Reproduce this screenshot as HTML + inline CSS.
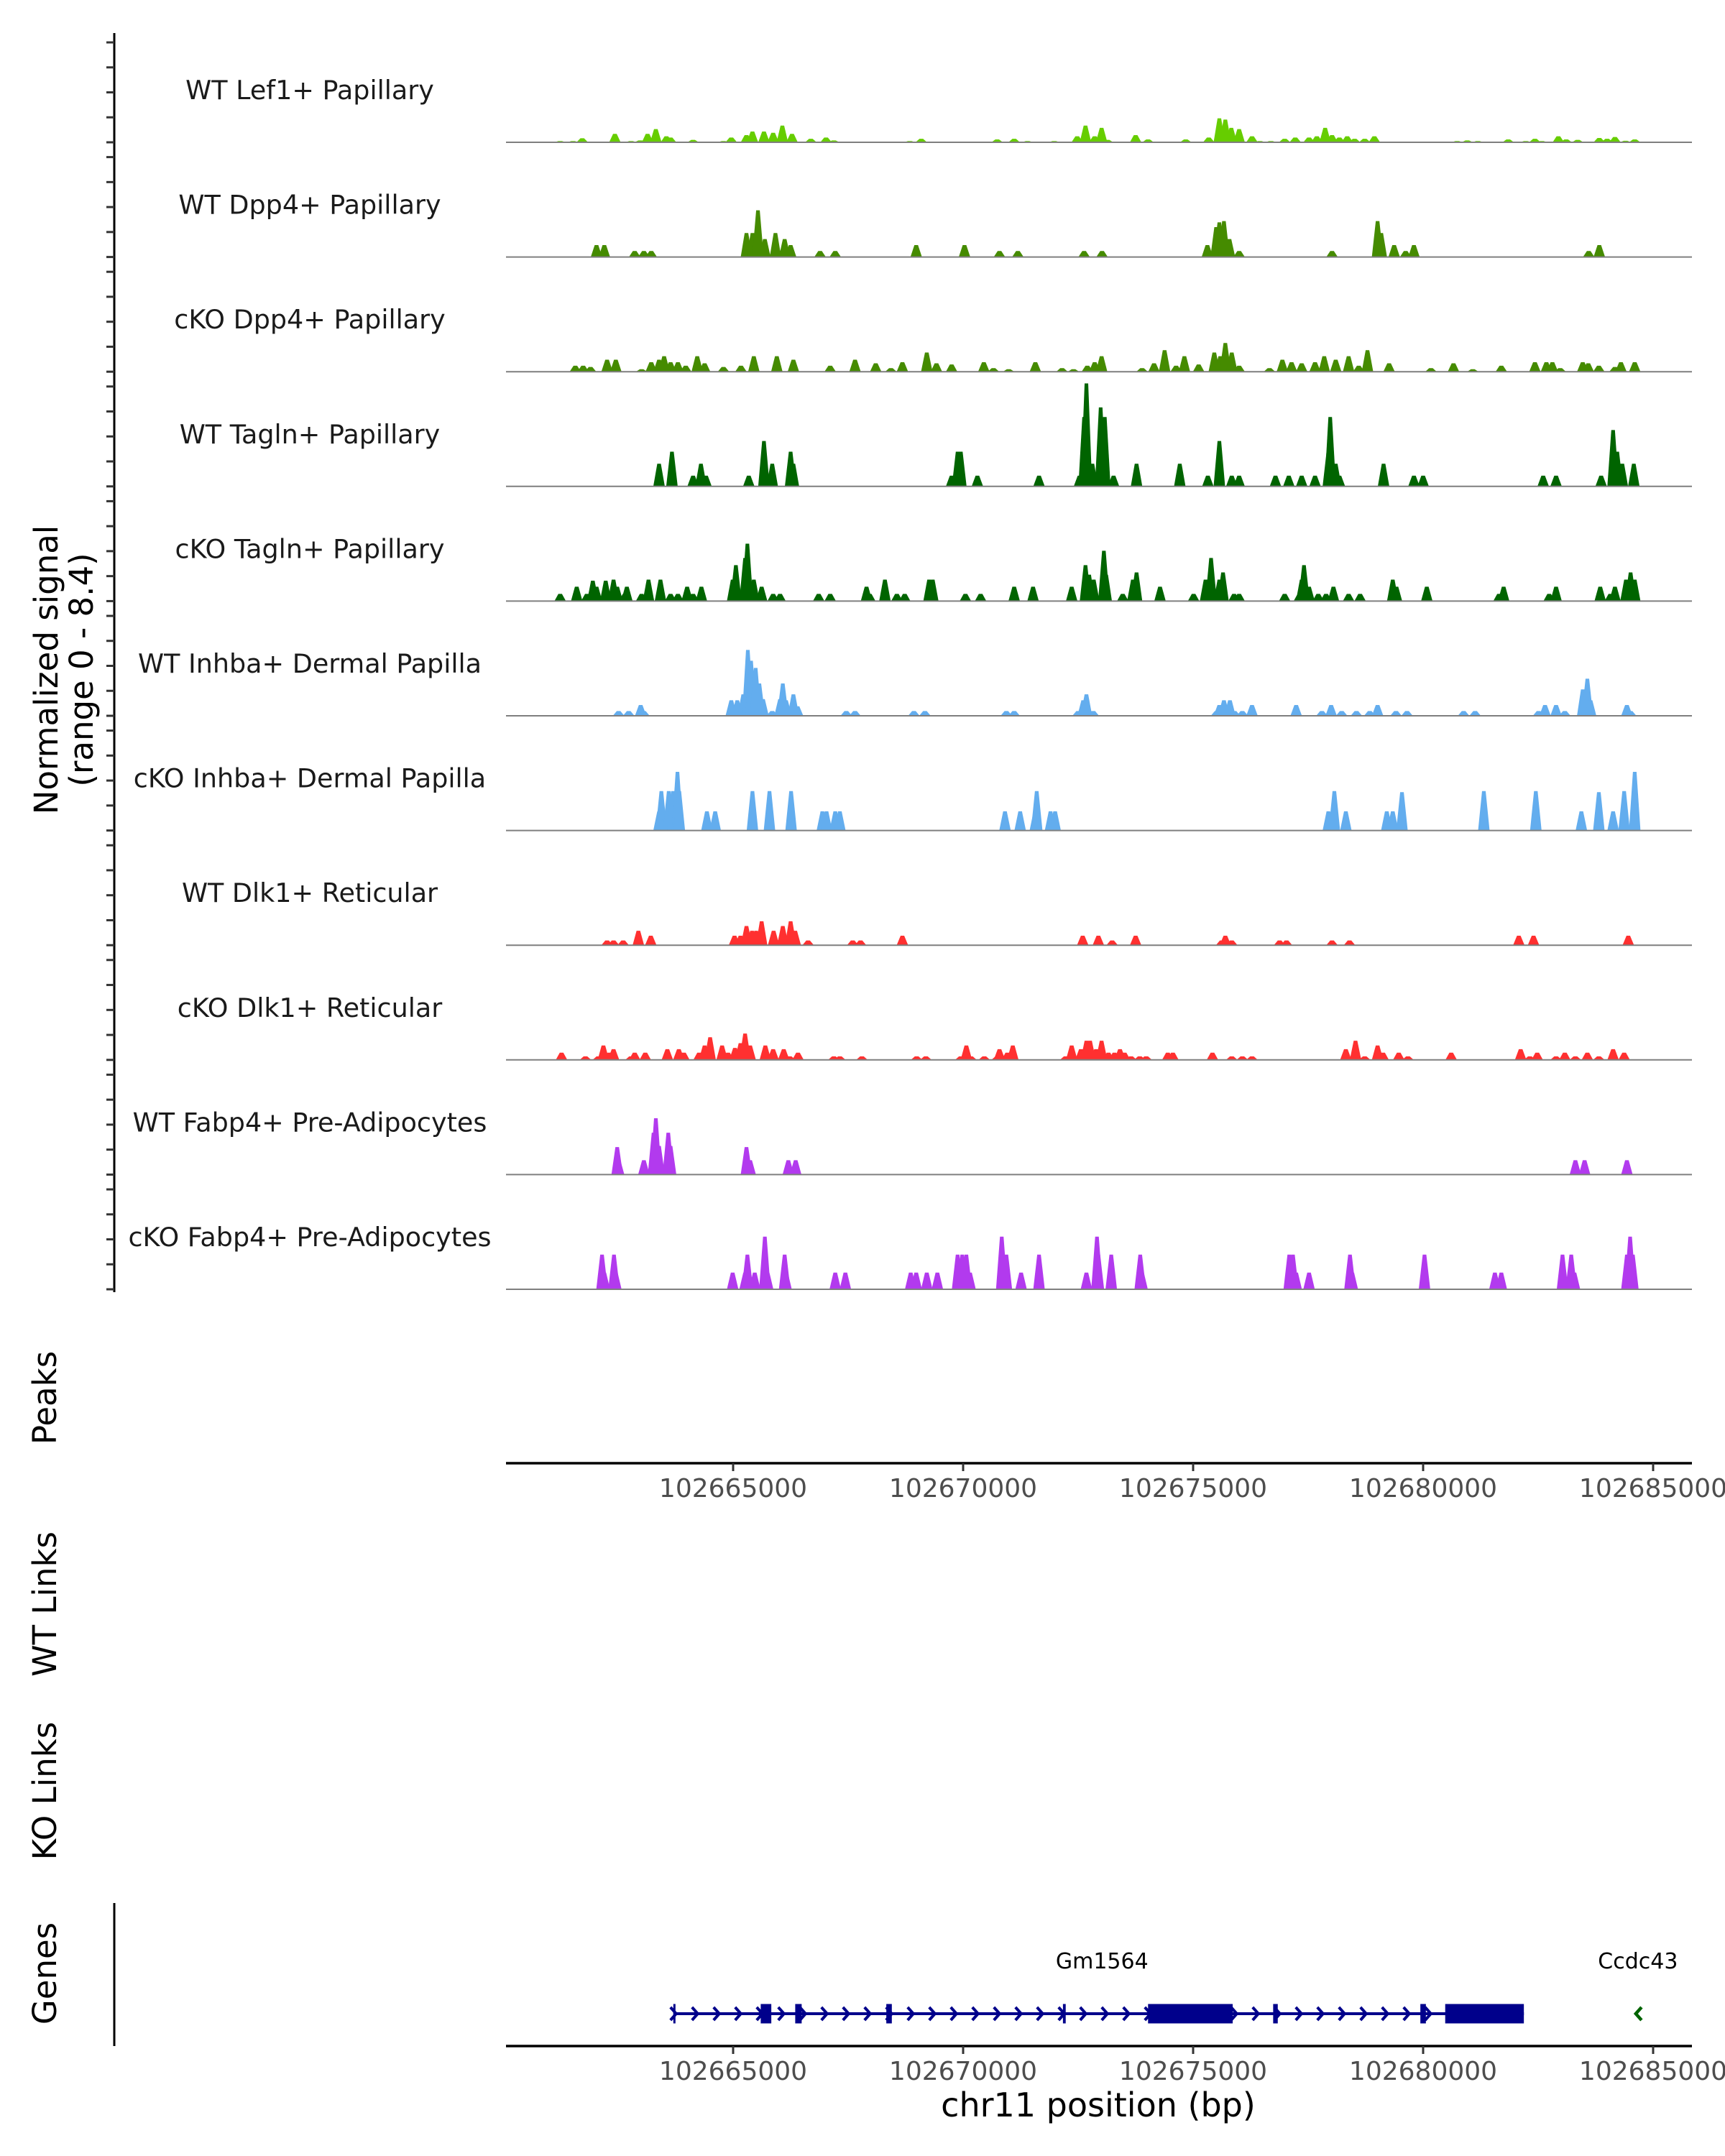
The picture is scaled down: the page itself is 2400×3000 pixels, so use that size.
<!DOCTYPE html>
<html><head><meta charset="utf-8">
<style>
html,body{margin:0;padding:0;background:#fff;}
svg{display:block;font-family:"DejaVu Sans","Liberation Sans",sans-serif;}
</style></head>
<body>
<svg id="chart" width="2400" height="3000" viewBox="0 0 2400 3000" xmlns="http://www.w3.org/2000/svg">
<rect width="2400" height="3000" fill="#fff"/>
</svg>
<script>
// ---- data (positions in kb from chr11:102660000, values in normalized signal) ----
const trackNames = ["WT Lef1+ Papillary","WT Dpp4+ Papillary","cKO Dpp4+ Papillary","WT Tagln+ Papillary","cKO Tagln+ Papillary","WT Inhba+ Dermal Papilla","cKO Inhba+ Dermal Papilla","WT Dlk1+ Reticular","cKO Dlk1+ Reticular","WT Fabp4+ Pre-Adipocytes","cKO Fabp4+ Pre-Adipocytes"];
const trackColors = ["#66CD00","#458B00","#458B00","#006400","#006400","#63ADEE","#63ADEE","#FF3030","#FF3030","#B23AEE","#B23AEE"];
const yMax = 8.4;
const xTicks = [102665000,102670000,102675000,102680000,102685000];

const pos1=[1.24,1.52,1.72,2.43,2.78,2.98,3.14,3.32,3.55,3.64,4.13,4.79,4.96,5.29,5.42,5.67,5.87,6.07,6.28,6.69,7.02,7.19,8.84,9.09,10.74,11.11,11.40,11.98,12.48,12.66,12.86,13.01,13.14,13.75,14.02,14.84,15.34,15.57,15.70,15.83,16.00,16.28,16.45,16.69,16.99,17.22,17.52,17.69,17.87,18.02,18.18,18.35,18.51,18.73,18.94,20.74,20.96,21.19,21.85,22.23,22.43,22.58,22.94,23.11,23.36,23.83,24.00,24.17,24.40,24.60];
const val1=[0.09,0.09,0.30,0.62,0.09,0.14,0.62,0.97,0.44,0.35,0.18,0.09,0.35,0.53,0.79,0.79,0.70,1.23,0.62,0.26,0.35,0.14,0.09,0.26,0.21,0.26,0.09,0.09,0.44,1.23,0.44,1.06,0.18,0.53,0.21,0.21,0.35,1.76,1.67,1.06,0.97,0.44,0.09,0.09,0.26,0.35,0.35,0.44,1.06,0.53,0.35,0.44,0.26,0.26,0.44,0.09,0.14,0.09,0.21,0.09,0.26,0.09,0.44,0.21,0.18,0.32,0.26,0.39,0.11,0.21];

const pos2=[2.03,2.20,2.86,3.06,3.22,5.29,5.42,5.54,5.69,5.92,6.12,6.25,6.89,7.22,8.98,10.03,10.79,11.19,12.63,13.02,15.31,15.50,15.57,15.67,15.79,16.00,18.02,19.01,19.09,19.37,19.62,19.80,23.60,23.83];
const val2=[0.88,0.88,0.44,0.44,0.44,1.76,1.76,3.43,1.32,1.76,1.32,0.88,0.44,0.44,0.88,0.88,0.44,0.44,0.44,0.44,0.88,2.20,2.55,2.64,1.32,0.44,0.44,2.64,1.76,0.88,0.44,0.88,0.44,0.88];

const pos3=[1.57,1.74,1.90,2.26,2.45,3.01,3.22,3.39,3.50,3.64,3.80,3.97,4.22,4.38,4.79,5.17,5.45,5.95,6.31,7.11,7.65,8.10,8.43,8.68,9.21,9.42,9.75,10.45,10.66,10.99,11.57,12.15,12.40,12.70,12.86,13.01,13.89,14.15,14.38,14.63,14.81,15.12,15.46,15.59,15.70,15.84,16.00,16.66,16.94,17.14,17.36,17.65,17.85,18.10,18.38,18.60,18.79,19.26,20.17,20.66,21.08,21.70,22.43,22.68,22.81,22.98,23.47,23.59,23.82,24.17,24.30,24.60];
const val3=[0.44,0.44,0.35,0.88,0.88,0.18,0.70,0.88,1.14,0.70,0.70,0.44,1.14,0.62,0.35,0.44,1.14,1.14,0.88,0.44,0.88,0.62,0.26,0.70,1.41,0.62,0.53,0.70,0.26,0.18,0.70,0.26,0.18,0.44,0.70,1.14,0.26,0.62,1.58,0.44,1.14,0.53,1.41,1.14,2.11,1.41,0.44,0.26,0.88,0.70,0.62,0.70,1.14,0.88,1.14,0.44,1.58,0.62,0.26,0.62,0.18,0.44,0.70,0.70,0.70,0.26,0.70,0.62,0.44,0.35,0.70,0.70];

const pos4=[3.39,3.67,4.13,4.30,4.41,5.34,5.67,5.85,6.25,6.31,9.75,9.88,9.95,10.31,11.65,12.53,12.63,12.68,12.81,12.99,13.08,13.27,13.77,14.71,15.32,15.57,15.84,16.00,16.79,17.08,17.36,17.65,17.94,17.98,18.10,18.18,19.14,19.80,20.00,22.61,22.89,23.87,24.13,24.22,24.33,24.58];
const val4=[1.67,2.55,0.79,1.67,0.79,0.79,3.34,1.67,2.55,1.67,0.79,2.55,2.55,0.79,0.79,0.79,5.10,7.57,1.67,5.81,5.10,0.79,1.67,1.67,0.79,3.34,0.79,0.79,0.79,0.79,0.79,0.79,2.55,5.10,1.67,0.79,1.67,0.79,0.79,0.79,0.79,0.79,4.14,2.55,1.67,1.67];

const pos5=[1.24,1.60,1.82,1.95,2.03,2.23,2.40,2.48,2.64,2.69,3.01,3.16,3.42,3.64,3.80,4.00,4.13,4.31,4.99,5.06,5.26,5.31,5.45,5.62,5.87,6.02,6.86,7.11,7.90,7.97,8.30,8.56,8.73,9.26,9.34,10.05,10.38,11.11,11.52,12.36,12.66,12.74,12.84,13.06,13.11,13.47,13.69,13.77,14.28,15.01,15.27,15.39,15.57,15.65,15.89,16.00,16.99,17.31,17.36,17.41,17.52,17.72,17.89,18.05,18.38,18.63,19.34,19.42,20.08,21.65,21.75,22.74,22.89,23.85,24.07,24.17,24.41,24.51,24.60];
const val5=[0.53,1.06,0.53,1.50,1.06,1.50,1.58,1.06,0.53,1.06,0.53,1.58,1.58,0.53,0.53,1.06,0.53,1.06,1.58,2.64,3.17,4.22,1.58,1.06,0.53,0.53,0.53,0.53,1.06,0.53,1.58,0.53,0.53,1.58,1.58,0.53,0.53,1.06,1.06,1.06,2.64,1.94,1.58,3.70,1.94,0.53,1.58,2.11,1.06,0.53,1.58,3.17,1.58,2.11,0.53,0.53,0.53,0.53,1.58,2.64,1.06,0.53,0.53,1.06,0.53,0.53,1.58,1.06,1.06,0.53,1.06,0.53,1.06,1.06,0.53,1.06,1.58,2.11,1.58];

const pos6=[2.51,2.73,2.99,3.06,4.96,5.09,5.22,5.32,5.39,5.49,5.57,5.65,5.85,6.02,6.08,6.15,6.31,6.40,7.46,7.65,8.93,9.17,10.94,11.11,12.50,12.61,12.68,12.83,15.51,15.57,15.67,15.80,15.90,16.07,16.28,17.24,17.80,18.00,18.23,18.55,18.84,19.01,19.41,19.65,20.88,21.13,22.51,22.65,22.89,23.08,23.47,23.57,23.64,24.43,24.51];
const val6=[0.35,0.35,0.79,0.35,1.14,1.14,1.58,4.84,4.05,3.52,2.38,1.23,0.35,1.23,2.38,1.14,1.58,0.70,0.35,0.35,0.35,0.35,0.35,0.35,0.35,1.14,1.58,0.35,0.35,0.79,1.14,1.14,0.35,0.35,0.79,0.79,0.35,0.79,0.35,0.35,0.35,0.79,0.35,0.35,0.35,0.35,0.35,0.79,0.79,0.35,1.94,2.73,1.14,0.79,0.35];

const pos7=[3.39,3.44,3.54,3.60,3.69,3.79,3.83,4.43,4.61,5.42,5.79,6.26,6.94,7.03,7.22,7.32,10.91,11.24,11.57,11.60,11.90,12.00,17.94,18.07,18.32,19.21,19.34,19.54,21.32,22.45,23.44,23.82,24.13,24.37,24.60];
const val7=[1.41,2.90,1.41,2.90,2.90,4.31,2.90,1.41,1.41,2.90,2.90,2.90,1.41,1.41,1.41,1.41,1.41,1.41,1.41,2.90,1.41,1.41,1.41,2.90,1.41,1.41,1.41,2.82,2.90,2.90,1.41,2.82,1.41,2.90,4.31];

const pos8=[2.26,2.40,2.61,2.94,3.21,5.03,5.16,5.29,5.41,5.50,5.62,5.88,6.08,6.25,6.35,6.63,7.60,7.77,8.68,12.60,12.94,13.24,13.75,15.62,15.70,15.84,16.88,17.03,18.02,18.40,22.08,22.40,24.46];
const val8=[0.35,0.35,0.35,1.06,0.70,0.70,0.70,1.41,1.06,1.06,1.76,1.06,1.41,1.76,1.06,0.35,0.35,0.35,0.70,0.70,0.70,0.35,0.70,0.35,0.70,0.35,0.35,0.35,0.35,0.35,0.70,0.70,0.70];

const pos9=[1.27,1.79,2.07,2.18,2.31,2.40,2.78,2.86,3.09,3.57,3.82,3.93,4.26,4.38,4.50,4.76,4.89,5.04,5.16,5.26,5.37,5.70,5.87,6.10,6.23,6.41,7.19,7.32,7.80,8.99,9.19,9.95,10.07,10.17,10.46,10.74,10.79,10.96,11.08,12.23,12.36,12.56,12.68,12.76,12.89,13.01,13.16,13.29,13.41,13.51,13.65,13.84,13.98,14.45,14.56,15.42,15.84,16.07,16.28,18.32,18.53,18.73,19.01,19.13,19.47,19.67,20.61,22.12,22.32,22.48,22.89,23.08,23.31,23.57,23.82,24.13,24.37];
const val9=[0.53,0.26,0.26,1.06,0.53,0.79,0.26,0.53,0.53,0.79,0.79,0.53,0.53,1.06,1.67,1.06,0.53,0.88,1.23,1.94,1.06,1.06,0.79,0.79,0.26,0.53,0.26,0.26,0.26,0.26,0.26,0.26,1.06,0.26,0.26,0.26,0.79,0.53,1.06,0.26,1.06,0.79,1.41,1.41,0.79,1.41,0.53,0.53,0.79,0.53,0.26,0.26,0.26,0.53,0.53,0.53,0.26,0.26,0.26,0.79,1.41,0.26,1.06,0.53,0.53,0.26,0.53,0.79,0.26,0.53,0.26,0.53,0.26,0.53,0.26,0.79,0.53];

const pos10=[2.48,2.51,3.06,3.27,3.32,3.39,3.59,3.64,5.29,5.37,6.20,6.36,23.31,23.51,24.43];
const val10=[2.02,1.06,1.06,3.08,4.14,2.11,3.08,2.11,2.02,1.06,1.06,1.06,1.06,1.06,1.06];

const pos11=[2.15,2.20,2.41,2.45,4.99,5.26,5.31,5.47,5.69,5.75,6.12,6.15,7.22,7.44,8.86,8.98,9.21,9.44,9.88,9.98,10.07,10.15,10.84,10.94,11.26,11.65,12.68,12.91,12.94,13.22,13.85,13.89,17.09,17.17,17.24,17.52,18.41,18.46,20.03,21.56,21.70,23.03,23.22,23.29,24.43,24.50,24.56];
const val11=[2.55,1.23,2.55,1.23,1.23,1.23,2.55,1.23,3.87,1.23,2.55,1.23,1.23,1.23,1.23,1.23,1.23,1.23,2.55,2.55,2.55,1.23,3.87,2.55,1.23,2.55,1.23,3.87,2.55,2.55,2.55,1.23,2.55,2.55,1.23,1.23,2.55,1.23,2.55,1.23,1.23,2.55,2.55,1.23,2.55,3.87,2.55];

const trackPos=[pos1,pos2,pos3,pos4,pos5,pos6,pos7,pos8,pos9,pos10,pos11];
const trackVal=[val1,val2,val3,val4,val5,val6,val7,val8,val9,val10,val11];

// gene model (kb)
const geneStart = 3.70, geneEnd = 22.19;
const exonStart = [3.70,5.60,6.35,8.33,12.17,14.02,16.74,19.94,20.48];
const exonEnd   = [3.72,5.83,6.49,8.45,12.23,15.86,16.84,20.06,22.19];
const gene2Pos = 24.67;
const geneLabels = ["Gm1564","Ccdc43"];
const geneLabelPos = [13.02,24.67];

// ---- scales ----
const NS="http://www.w3.org/2000/svg";
const svg=document.getElementById('chart');
const X0=704, X1=2354;
function xKb(kb){return 1020+(kb-5)*64;}
function xBp(bp){return xKb((bp-102660000)/1000);}
const trackPitch=159.6, base0=198, trackH=159;
function baseY(i){return base0+i*trackPitch;}
function hV(v){return v/yMax*trackH;}
function mk(tag,attrs){const e=document.createElementNS(NS,tag);for(const k in attrs)e.setAttribute(k,attrs[k]);svg.appendChild(e);return e;}

// left signal axis
let ax=mk('line',{x1:159,y1:46,x2:159,y2:1798,stroke:'#000','stroke-width':3});



for(let i=0;i<trackNames.length;i++){
  const by=baseY(i);
  for(let t=0;t<5;t++){
    const ty=by-t*34.75;
    const tk=mk('line',{x1:148,y1:ty,x2:159,y2:ty,stroke:'#333','stroke-width':3});
    
    
  }
  const g=document.createElementNS(NS,'g');
  g.setAttribute('fill',trackColors[i]);
  svg.appendChild(g);
  
  
  const P=trackPos[i], V=trackVal[i];
  for(let j=0;j<P.length;j++){
    const x=xKb(P[j]), h=hV(V[j]);
    const p=document.createElementNS(NS,'polygon');
    p.setAttribute('points',`${x-8},${by} ${x-2.5},${by-h} ${x+2.5},${by-h} ${x+8},${by}`);
    
    
    g.appendChild(p);
  }
  const bl=mk('line',{x1:X0,y1:by,x2:X1,y2:by,stroke:'#7f7f7f','stroke-width':2});
  
  
  const lb=mk('text',{x:431,y:by-60,'font-size':36.5,fill:'#1a1a1a','text-anchor':'middle'});
  lb.textContent=trackNames[i];
  
  
}

// y axis title
const yt=mk('text',{transform:'translate(80,932) rotate(-90)','font-size':45,fill:'#000','text-anchor':'middle'});


const t1=document.createElementNS(NS,'tspan');t1.setAttribute('x',0);t1.setAttribute('y',0);t1.textContent='Normalized signal';yt.appendChild(t1);
const t2=document.createElementNS(NS,'tspan');t2.setAttribute('x',0);t2.setAttribute('y',49);t2.textContent='(range 0 - 8.4)';yt.appendChild(t2);

// side panel labels
const sideLabels=["Peaks","WT Links","KO Links","Genes"];
const sideY=[1945,2232,2492,2746];
for(let i=0;i<sideLabels.length;i++){
  const s=mk('text',{transform:`translate(78,${sideY[i]}) rotate(-90)`,'font-size':45,fill:'#000','text-anchor':'middle'});
  s.textContent=sideLabels[i];
  
  
}

// x axes
function xAxis(y,name){
  const l=mk('line',{x1:X0,y1:y,x2:X1,y2:y,stroke:'#000','stroke-width':3.5});
  
  
  for(const b of xTicks){
    const x=xBp(b);
    const tk=mk('line',{x1:x,y1:y,x2:x,y2:y+11,stroke:'#333','stroke-width':3});
    
    
    const tl=mk('text',{x:x,y:y+47,'font-size':36,fill:'#4d4d4d','text-anchor':'middle'});
    tl.textContent=String(b);
    
    
  }
}
xAxis(2036,'peaks-x-axis');
xAxis(2847,'genes-x-axis');

const xt=mk('text',{x:1528,y:2945,'font-size':46,fill:'#000','text-anchor':'middle'});
xt.textContent='chr11 position (bp)';



// genes axis line
const ga=mk('line',{x1:159,y1:2648,x2:159,y2:2847,stroke:'#000','stroke-width':3});



// gene model
const gy=2802;
const gl=mk('line',{x1:xKb(geneStart),y1:gy,x2:xKb(geneEnd),y2:gy,stroke:'#00008B','stroke-width':4});


for(let x=xKb(geneStart);x<xKb(geneEnd);x+=30){
  const c=mk('polyline',{points:`${x-4},${gy-9} ${x+4},${gy} ${x-4},${gy+9}`,fill:'none',stroke:'#00008B','stroke-width':4});
  
  
}
for(let i=0;i<exonStart.length;i++){
  const x1=xKb(exonStart[i]),x2=xKb(exonEnd[i]);
  const r=mk('rect',{x:x1,y:gy-13.5,width:Math.max(3,x2-x1),height:27,fill:'#00008B'});
  
  
}
const g2=mk('polyline',{points:`${xKb(gene2Pos)+5},${gy-9} ${xKb(gene2Pos)-3},${gy} ${xKb(gene2Pos)+5},${gy+9}`,fill:'none',stroke:'#006400','stroke-width':4.5});


for(let i=0;i<geneLabels.length;i++){
  const t=mk('text',{x:xKb(geneLabelPos[i]),y:2739,'font-size':30,fill:'#000','text-anchor':'middle'});
  t.textContent=geneLabels[i];
  
  
}
</script>
</body></html>
